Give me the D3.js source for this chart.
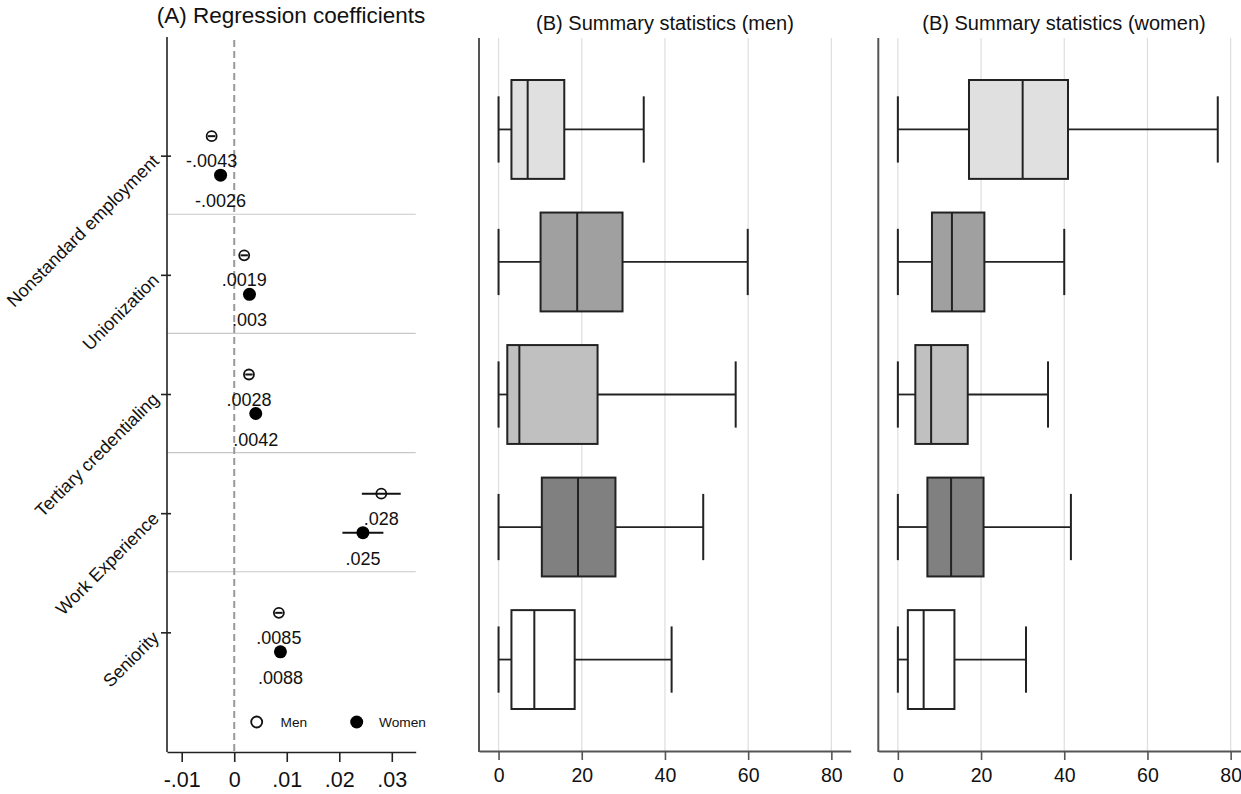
<!DOCTYPE html>
<html>
<head>
<meta charset="utf-8">
<style type="text/css">
  body { margin: 0; background: #fff; }
  svg { font-family: "Liberation Sans", Arial, sans-serif; }
  .grid line { stroke: #dedede; stroke-width: 1.2px; }
  .sep line { stroke: #c8c8c8; stroke-width: 1.2px; }
</style>
</head>
<body>
<svg id="viewport" width="1241" height="794"></svg>
<script src="https://cdn.jsdelivr.net/npm/d3@7/dist/d3.min.js"></script>
<script>
  // DATA
  var categories = ["Nonstandard employment", "Unionization", "Tertiary credentialing", "Work Experience", "Seniority"];

  // panel A: coefficients and confidence intervals
  var coefMen = [-0.0043, 0.0019, 0.0028, 0.028, 0.0085];
  var ciMen = [[-0.0050, -0.0036], [0.0012, 0.0026], [0.0021, 0.0035], [0.0243, 0.0317], [0.0078, 0.0092]];
  var labelMen = ["-.0043", ".0019", ".0028", ".028", ".0085"];
  var coefWomen = [-0.0026, 0.0029, 0.0041, 0.0245, 0.0088];
  var ciWomen = [[-0.0033, -0.0019], [0.0022, 0.0036], [0.0034, 0.0048], [0.0206, 0.0284], [0.0081, 0.0095]];
  var labelWomen = ["-.0026", ".003", ".0042", ".025", ".0088"];
  var coefTicks = [-0.01, 0, 0.01, 0.02, 0.03];
  var coefTickLabels = ["-.01", "0", ".01", ".02", ".03"];

  // panel B: [lower whisker, q1, median, q3, upper whisker]
  var boxMen = [[0, 3.1, 7.0, 15.8, 34.9], [0, 10.1, 18.9, 29.8, 59.9], [0, 2.1, 5.0, 23.8, 57.0], [0, 10.4, 19.1, 28.1, 49.2], [0, 3.1, 8.6, 18.3, 41.6]];
  var boxWomen = [[0, 17.1, 30.0, 40.9, 76.9], [0, 8.2, 13.0, 20.8, 40.0], [0, 4.2, 8.0, 16.8, 36.1], [0, 7.1, 12.8, 20.6, 41.6], [0, 2.4, 6.2, 13.6, 30.8]];
  var boxFills = ["#e0e0e0", "#a0a0a0", "#c0c0c0", "#808080", "#ffffff"];
  var boxTicks = [0, 20, 40, 60, 80];

  var svg = d3.select("svg");

  /** Panel A **/
  var xA = d3.scaleLinear().domain([-0.0128, 0.03455]).range([167, 415.7]);
  var yA = d3.scalePoint().domain(categories).range([37, 752]).padding(1);
  var gA = svg.append("g");

  gA.append("text")
    .attr("x", 291).attr("y", 23)
    .attr("text-anchor", "middle")
    .style("font-size", "22.5px").attr("fill", "#111")
    .text("(A) Regression coefficients");

  // separators between categories
  gA.append("g").attr("class", "sep")
    .selectAll("line")
    .data(categories.slice(1))
    .enter().append("line")
    .attr("x1", 167).attr("x2", 415.7)
    .attr("y1", function(d) { return yA(d) - yA.step() / 2 - 1.5; })
    .attr("y2", function(d) { return yA(d) - yA.step() / 2 - 1.5; });

  // zero reference line
  gA.append("line")
    .attr("x1", xA(0)).attr("x2", xA(0))
    .attr("y1", 40).attr("y2", 752)
    .attr("stroke", "#999").attr("stroke-width", 2)
    .attr("stroke-dasharray", "7,4");

  // y axis
  gA.append("line")
    .attr("x1", 167).attr("x2", 167).attr("y1", 37).attr("y2", 752)
    .attr("stroke", "#222").attr("stroke-width", 1.6);
  gA.selectAll(".ytick")
    .data(categories)
    .enter().append("line")
    .attr("x1", 161).attr("x2", 171)
    .attr("y1", function(d) { return yA(d); })
    .attr("y2", function(d) { return yA(d); })
    .attr("stroke", "#222").attr("stroke-width", 1.6);
  gA.selectAll(".ylab")
    .data(categories)
    .enter().append("text")
    .attr("transform", function(d) { return "translate(160," + (yA(d) + 6) + ") rotate(-45)"; })
    .attr("text-anchor", "end")
    .style("font-size", "18px").attr("fill", "#111")
    .text(function(d) { return d; });

  // x axis
  var axisA = gA.append("g")
    .attr("transform", "translate(0,752)")
    .call(d3.axisBottom(xA).tickValues(coefTicks)
      .tickFormat(function(d, i) { return coefTickLabels[i]; })
      .tickSize(10).tickSizeOuter(0).tickPadding(10));
  axisA.select(".domain").attr("stroke", "#222").attr("stroke-width", 1.6);
  axisA.selectAll(".tick line").attr("stroke", "#222").attr("stroke-width", 1.6);
  axisA.selectAll(".tick text").style("font-size", "21.5px").style("font-family", "Liberation Sans, Arial, sans-serif").attr("fill", "#111");

  var offMen = -20, offWomen = 19;

  // confidence intervals
  gA.selectAll(".ciM").data(ciMen).enter().append("line")
    .attr("x1", function(d) { return xA(d[0]); })
    .attr("x2", function(d) { return xA(d[1]); })
    .attr("y1", function(d, i) { return yA(categories[i]) + offMen; })
    .attr("y2", function(d, i) { return yA(categories[i]) + offMen; })
    .attr("stroke", "#111").attr("stroke-width", 2);
  gA.selectAll(".ciW").data(ciWomen).enter().append("line")
    .attr("x1", function(d) { return xA(d[0]); })
    .attr("x2", function(d) { return xA(d[1]); })
    .attr("y1", function(d, i) { return yA(categories[i]) + offWomen; })
    .attr("y2", function(d, i) { return yA(categories[i]) + offWomen; })
    .attr("stroke", "#111").attr("stroke-width", 2);

  // points
  gA.selectAll(".ptM").data(coefMen).enter().append("circle")
    .attr("cx", function(d) { return xA(d); })
    .attr("cy", function(d, i) { return yA(categories[i]) + offMen; })
    .attr("r", 5).attr("fill", "none")
    .attr("stroke", "#111").attr("stroke-width", 1.8);
  gA.selectAll(".ptW").data(coefWomen).enter().append("circle")
    .attr("cx", function(d) { return xA(d); })
    .attr("cy", function(d, i) { return yA(categories[i]) + offWomen; })
    .attr("r", 6.5).attr("fill", "#000");

  // value labels
  gA.selectAll(".lbM").data(coefMen).enter().append("text")
    .attr("x", function(d) { return xA(d); })
    .attr("y", function(d, i) { return yA(categories[i]) + offMen + 31; })
    .attr("text-anchor", "middle")
    .style("font-size", "18px").attr("fill", "#111")
    .text(function(d, i) { return labelMen[i]; });
  gA.selectAll(".lbW").data(coefWomen).enter().append("text")
    .attr("x", function(d) { return xA(d); })
    .attr("y", function(d, i) { return yA(categories[i]) + offWomen + 32; })
    .attr("text-anchor", "middle")
    .style("font-size", "18px").attr("fill", "#111")
    .text(function(d, i) { return labelWomen[i]; });

  // legend
  var leg = gA.append("g").attr("transform", "translate(0,722)");
  leg.append("circle").attr("cx", 256.7).attr("cy", 0).attr("r", 5.5)
    .attr("fill", "#fff").attr("stroke", "#111").attr("stroke-width", 1.8);
  leg.append("text").attr("x", 280.5).attr("y", 5).style("font-size", "13.7px").attr("fill", "#111").text("Men");
  leg.append("circle").attr("cx", 356.7).attr("cy", 0).attr("r", 6.5).attr("fill", "#000");
  leg.append("text").attr("x", 379).attr("y", 5).style("font-size", "13.7px").attr("fill", "#111").text("Women");

  /** Panel B **/
  function boxPanel(x0, x1, title, titleX, boxes) {
    var x = d3.scaleLinear().domain([-4.7, 84.65]).range([x0, x1]);
    var y = d3.scalePoint().domain(categories).range([38, 751]).padding(0.69);
    var step = y.step();
    var g = svg.append("g");

    g.append("text")
      .attr("x", titleX).attr("y", 30)
      .attr("text-anchor", "middle")
      .style("font-size", "20px").attr("fill", "#111")
      .text(title);

    g.append("g").attr("class", "grid")
      .selectAll("line").data(boxTicks).enter().append("line")
      .attr("x1", function(d) { return x(d); }).attr("x2", function(d) { return x(d); })
      .attr("y1", 38).attr("y2", 751);

    var ax = g.append("g")
      .attr("transform", "translate(0,751)")
      .call(d3.axisBottom(x).tickValues(boxTicks).tickSize(9).tickSizeOuter(0).tickPadding(8));
    ax.select(".domain").attr("stroke", "#555").attr("stroke-width", 2);
    ax.selectAll(".tick line").attr("stroke", "#555").attr("stroke-width", 1.6);
    ax.selectAll(".tick text").style("font-size", "19.5px").style("font-family", "Liberation Sans, Arial, sans-serif").attr("fill", "#111");

    g.append("line")
      .attr("x1", x0).attr("x2", x0).attr("y1", 38).attr("y2", 752)
      .attr("stroke", "#555").attr("stroke-width", 2);

    var b = g.selectAll(".box").data(boxes).enter().append("g")
      .attr("transform", function(d, i) { return "translate(0," + y(categories[i]) + ")"; });

    // whiskers
    b.append("line")
      .attr("x1", function(d) { return x(d[0]); }).attr("x2", function(d) { return x(d[1]); })
      .attr("y1", 0).attr("y2", 0).attr("stroke", "#222").attr("stroke-width", 1.8);
    b.append("line")
      .attr("x1", function(d) { return x(d[3]); }).attr("x2", function(d) { return x(d[4]); })
      .attr("y1", 0).attr("y2", 0).attr("stroke", "#222").attr("stroke-width", 1.8);
    b.append("line")
      .attr("x1", function(d) { return x(d[0]); }).attr("x2", function(d) { return x(d[0]); })
      .attr("y1", -step * 0.25).attr("y2", step * 0.25).attr("stroke", "#222").attr("stroke-width", 2);
    b.append("line")
      .attr("x1", function(d) { return x(d[4]); }).attr("x2", function(d) { return x(d[4]); })
      .attr("y1", -step * 0.25).attr("y2", step * 0.25).attr("stroke", "#222").attr("stroke-width", 2);

    // box and median
    b.append("rect")
      .attr("x", function(d) { return x(d[1]); })
      .attr("width", function(d) { return x(d[3]) - x(d[1]); })
      .attr("y", -step * 0.373).attr("height", step * 0.746)
      .attr("fill", function(d, i) { return boxFills[i]; })
      .attr("stroke", "#222").attr("stroke-width", 2);
    b.append("line")
      .attr("x1", function(d) { return x(d[2]); }).attr("x2", function(d) { return x(d[2]); })
      .attr("y1", -step * 0.373).attr("y2", step * 0.373)
      .attr("stroke", "#222").attr("stroke-width", 2);
  }

  boxPanel(479, 850.7, "(B) Summary statistics (men)", 665, boxMen);
  boxPanel(878.3, 1250, "(B) Summary statistics (women)", 1064, boxWomen);
</script>
</body>
</html>
